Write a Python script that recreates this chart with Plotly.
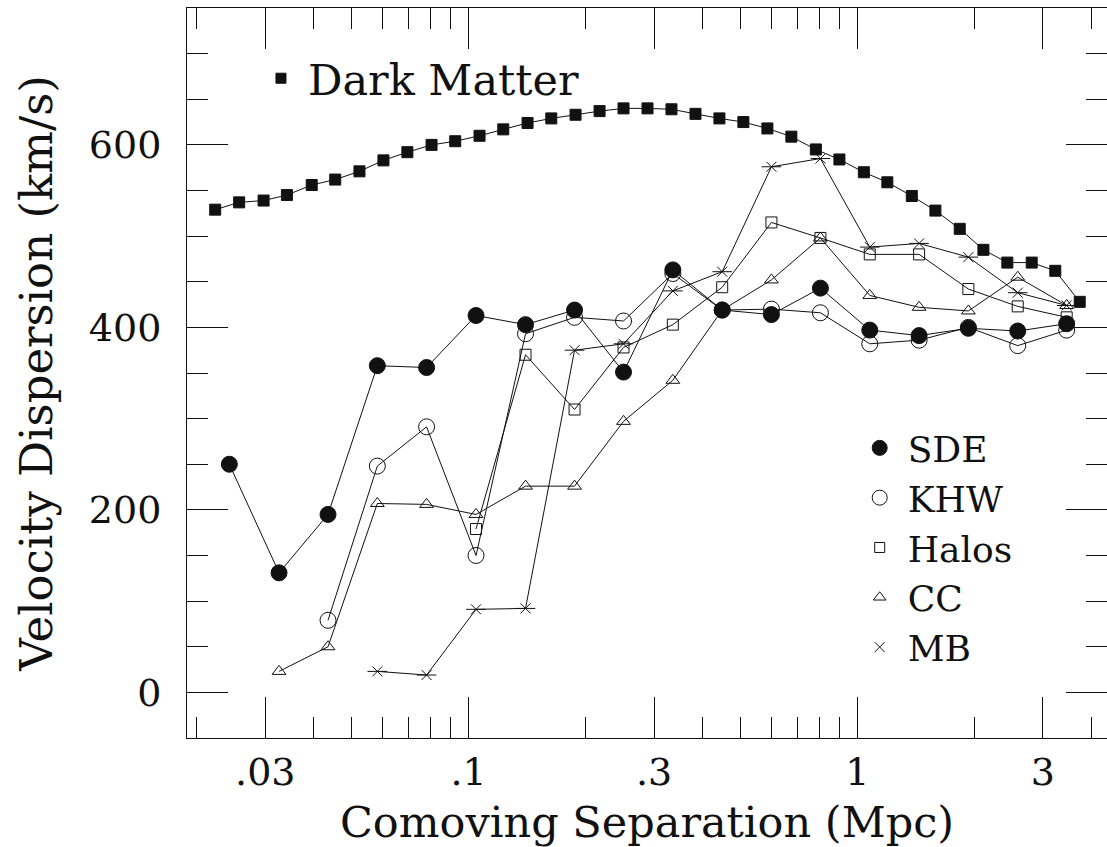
import plotly.graph_objects as go

# ---------------- data ----------------
sep_dm = [0.0223, 0.0257, 0.0297, 0.0341, 0.0395, 0.0454, 0.0524, 0.0604, 0.0696,
          0.0803, 0.0924, 0.1067, 0.1228, 0.1418, 0.1632, 0.1884, 0.2172, 0.2503,
          0.2885, 0.3325, 0.3833, 0.4417, 0.5090, 0.5868, 0.6764, 0.7818, 0.8990,
          1.039, 1.194, 1.380, 1.587, 1.833, 2.109, 2.430, 2.807, 3.228, 3.730]
dark_matter = [529, 537, 539, 545, 556, 562, 571, 583, 592, 600, 604, 610, 617,
               624, 629, 633, 637, 640, 640, 639, 634, 629, 625, 618, 609, 595,
               584, 570, 559, 544, 528, 508, 485, 471, 471, 462, 428]

sep = [0.02425, 0.03255, 0.0435, 0.05825, 0.07798, 0.1045, 0.1401, 0.1873, 0.2503,
       0.3352, 0.449, 0.601, 0.8032, 1.076, 1.441, 1.929, 2.584, 3.453]
sde = [250, 131, 195, 358, 356, 413, 403, 419, 351, 463, 419, 414, 443, 397, 391,
       399, 396, 404]
khw = [None, None, 79, 248, 291, 150, 393, 411, 407, 459, 419, 420, 416, 382, 386,
       400, 380, 397]
halos = [None, None, None, None, None, 179, 370, 310, 378, 403, 444, 515, 498, 480,
         480, 442, 423, 411]
cc = [None, 23, 50, 207, 206, 195, 226, 226, 297, 342, 419, 452, 498, 435, 422,
      418, 455, 424]
mb = [None, None, None, 23, 19, 91, 92, 375, 382, 440, 461, 576, 585, 488, 492,
      477, 438, 424]

x_major = [0.03, 0.1, 0.3, 1, 3]
x_major_text = [".03", ".1", ".3", "1", "3"]
x_minor = [0.02, 0.04, 0.05, 0.06, 0.07, 0.08, 0.09, 0.2, 0.4, 0.5, 0.6, 0.7,
           0.8, 0.9, 2, 4]
y_major = [0, 200, 400, 600]
y_minor = [-50, 50, 100, 150, 250, 300, 350, 450, 500, 550, 650, 700, 750]

# ---------------- styling ----------------
FONT = "DejaVu Serif"
INK = "#111111"
LW = 1

fig = go.Figure()

def add_series(y, symbol, size, x=sep, legend="legend2",
               name=None, legend_size=None, extra_symbol=None, extra_size=None):
    fig.add_trace(go.Scatter(
        x=x, y=y, mode="lines+markers", showlegend=False,
        line=dict(color=INK, width=LW),
        marker=dict(symbol=symbol, size=size, color=INK,
                    line=dict(color=INK, width=LW)),
        connectgaps=False, hoverinfo="skip"))
    if extra_symbol:
        fig.add_trace(go.Scatter(
            x=x, y=y, mode="markers", showlegend=False,
            marker=dict(symbol=extra_symbol, size=extra_size, color=INK,
                        line=dict(color=INK, width=LW)),
            hoverinfo="skip"))
    if name:
        fig.add_trace(go.Scatter(
            x=[None], y=[None], mode="markers", name=name, legend=legend,
            marker=dict(symbol=symbol, size=legend_size or size, color=INK,
                        line=dict(color=INK, width=LW))))

add_series(dark_matter, "square", 11, x=sep_dm, legend="legend",
           name="Dark Matter", legend_size=10)
add_series(sde, "circle", 16, name="SDE", legend_size=15)
add_series(khw, "circle-open", 16, name="KHW", legend_size=15)
add_series(halos, "square-open", 11, name="Halos", legend_size=10)
add_series(cc, "triangle-up-open", 12, name="CC", legend_size=11)
add_series(mb, "x-thin-open", 10, name="MB", legend_size=10,
           extra_symbol="line-ew-open", extra_size=14)

axis_common = dict(
    showline=True, linecolor=INK, linewidth=LW, mirror="allticks",
    ticks="inside", tickcolor=INK, tickwidth=LW, ticklen=41,
    showgrid=False, zeroline=False,
    tickfont=dict(family=FONT, size=38, color=INK),
)

fig.update_layout(
    width=1107, height=847,
    margin=dict(l=187, r=0, t=8, b=109, autoexpand=False),
    paper_bgcolor="white", plot_bgcolor="white",
    font=dict(family=FONT, color=INK),
    xaxis=dict(
        type="log", range=[-1.7242, 0.6419],
        tickmode="array", tickvals=x_major, ticktext=x_major_text,
        minor=dict(tickmode="array", tickvals=x_minor, ticklen=21, ticks="inside",
                   tickcolor=INK, tickwidth=LW, showgrid=False),
        ticklabelstandoff=0,
        title=dict(text="Comoving Separation (Mpc)",
                   font=dict(family=FONT, size=43, color=INK), standoff=20),
        **axis_common),
    yaxis=dict(
        range=[-50, 750],
        tickmode="array", tickvals=y_major,
        minor=dict(tickmode="array", tickvals=y_minor, ticklen=21, ticks="inside",
                   tickcolor=INK, tickwidth=LW, showgrid=False),
        ticklabelstandoff=17,
        title=dict(text="Velocity Dispersion (km/s)",
                   font=dict(family=FONT, size=45, color=INK), standoff=22),
        **axis_common),
    legend=dict(x=0.0728, y=0.951, xanchor="left", yanchor="top",
                bgcolor="rgba(0,0,0,0)", borderwidth=0,
                font=dict(family=FONT, size=43, color=INK),
                itemsizing="trace", itemwidth=44),
    legend2=dict(x=0.7225, y=0.4384, xanchor="left", yanchor="top",
                 bgcolor="rgba(0,0,0,0)", borderwidth=0,
                 font=dict(family=FONT, size=36, color=INK),
                 itemsizing="trace", itemwidth=46),
)

fig.write_html("out.html")
